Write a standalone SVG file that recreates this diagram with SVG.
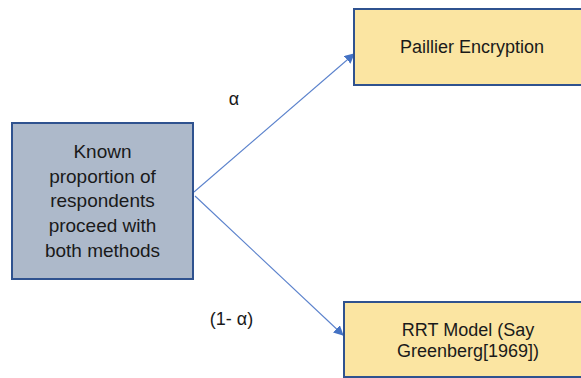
<svg xmlns="http://www.w3.org/2000/svg" width="581" height="378" viewBox="0 0 581 378">
<style>
text{font-family:"Liberation Sans",Arial,sans-serif;font-size:18px;fill:#1a1a1a;text-anchor:middle}
.big{font-size:19px}
.src{fill:#ADB9CA;stroke:#2F528F;stroke-width:2}
.dst{fill:#FBE5A2;stroke:#2F528F;stroke-width:2}
.conn{stroke:#5B82CC;stroke-width:1.1;fill:none}
</style>
<defs>
<marker id="arr" viewBox="0 0 10 10" refX="9" refY="5" markerWidth="10" markerHeight="10" markerUnits="userSpaceOnUse" orient="auto">
<path d="M0,0 L10,5 L0,10 z" fill="#4472C4"/>
</marker>
</defs>
<rect width="581" height="378" fill="#ffffff"/>
<g id="connectors">
<line class="conn" x1="194" y1="192" x2="354" y2="54" marker-end="url(#arr)"/>
<line class="conn" x1="195" y1="196" x2="343" y2="335" marker-end="url(#arr)"/>
<text x="234" y="105">α</text>
<text x="231.5" y="325">(1- α)</text>
</g>
<g id="known">
<rect class="src" x="12" y="123" width="181" height="156"/>
<text class="big" x="102.5" y="158">Known</text>
<text class="big" x="102.5" y="182.5">proportion of</text>
<text class="big" x="102.5" y="207">respondents</text>
<text class="big" x="102.5" y="231.5">proceed with</text>
<text class="big" x="102.5" y="256.5">both methods</text>
</g>
<g id="paillier">
<rect class="dst" x="354" y="9" width="240" height="76"/>
<text x="472" y="53">Paillier Encryption</text>
</g>
<g id="rrt">
<rect class="dst" x="344" y="302" width="250" height="75"/>
<text x="468" y="336">RRT Model (Say</text>
<text x="468" y="357">Greenberg[1969])</text>
</g>
</svg>
